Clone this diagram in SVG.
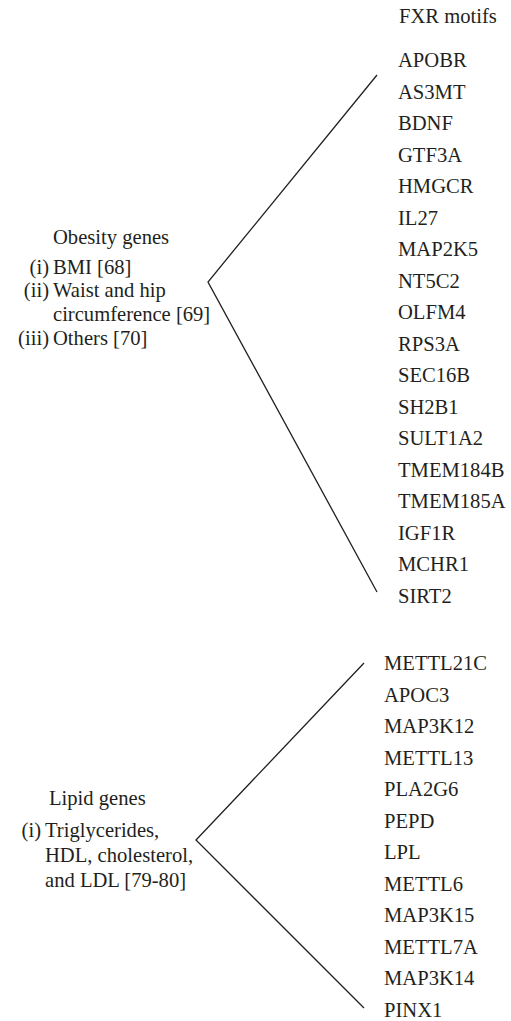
<svg xmlns="http://www.w3.org/2000/svg" width="511" height="1021" viewBox="0 0 511 1021">
<style>
text{font-family:"Liberation Serif","Times New Roman",serif;font-size:20.6px;fill:#231f20}
.e{text-anchor:end}
.c{fill:none;stroke:#231f20;stroke-width:1.3}
</style>
<rect width="511" height="1021" fill="#fff"/>
<g id="connectors">
<polyline class="c" points="377,75 208,282 377,592"/>
<polyline class="c" points="364,663 196,840 364,1008"/>
</g>
<g id="fxr-header"><text x="399" y="23">FXR motifs</text></g>
<g id="obesity">
<text x="53" y="244">Obesity genes</text>
<text><tspan class="e" x="49" y="274">(i)</tspan><tspan x="53" y="274">BMI [68]</tspan></text>
<text><tspan class="e" x="49" y="297">(ii)</tspan><tspan x="53" y="297">Waist and hip</tspan></text>
<text x="53" y="321">circumference [69]</text>
<text><tspan class="e" x="49" y="345">(iii)</tspan><tspan x="53" y="345">Others [70]</tspan></text>
</g>
<g id="obesity-genes">
<text x="398" y="67">APOBR</text>
<text x="398" y="98.5">AS3MT</text>
<text x="398" y="130">BDNF</text>
<text x="398" y="161.5">GTF3A</text>
<text x="398" y="193">HMGCR</text>
<text x="398" y="224.5">IL27</text>
<text x="398" y="256">MAP2K5</text>
<text x="398" y="287.5">NT5C2</text>
<text x="398" y="319">OLFM4</text>
<text x="398" y="350.5">RPS3A</text>
<text x="398" y="382">SEC16B</text>
<text x="398" y="413.5">SH2B1</text>
<text x="398" y="445">SULT1A2</text>
<text x="398" y="476.5">TMEM184B</text>
<text x="398" y="508">TMEM185A</text>
<text x="398" y="539.5">IGF1R</text>
<text x="398" y="571">MCHR1</text>
<text x="398" y="602.5">SIRT2</text>
</g>
<g id="lipid">
<text x="49" y="805">Lipid genes</text>
<text><tspan class="e" x="41" y="837">(i)</tspan><tspan x="45" y="837">Triglycerides,</tspan></text>
<text x="45" y="862">HDL, cholesterol,</text>
<text x="45" y="887">and LDL [79-80]</text>
</g>
<g id="lipid-genes">
<text x="384" y="670">METTL21C</text>
<text x="384" y="701.5">APOC3</text>
<text x="384" y="733">MAP3K12</text>
<text x="384" y="764.5">METTL13</text>
<text x="384" y="796">PLA2G6</text>
<text x="384" y="827.5">PEPD</text>
<text x="384" y="859">LPL</text>
<text x="384" y="890.5">METTL6</text>
<text x="384" y="922">MAP3K15</text>
<text x="384" y="953.5">METTL7A</text>
<text x="384" y="985">MAP3K14</text>
<text x="384" y="1016.5">PINX1</text>
</g>
</svg>
